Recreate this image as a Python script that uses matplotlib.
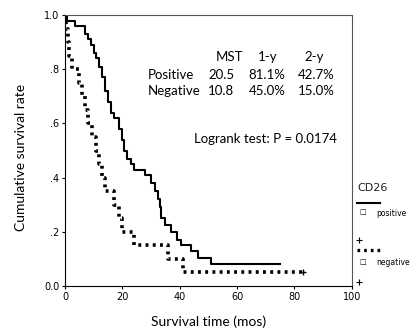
import matplotlib
matplotlib.use("Agg")
import matplotlib.pyplot as plt
from matplotlib.lines import Line2D

# Kaplan-Meier steps (time in months, survival after step)
pos_time = [0, 0.7, 3.5, 7, 8, 9, 10, 11, 12, 13, 14, 15, 16, 17, 19, 20, 20.5,
            21.5, 23, 24, 28, 30, 31.5, 32.5, 33, 33.5, 35, 37, 39, 40.5, 44,
            46.5, 51]
pos_surv = [1.0, 0.98, 0.96, 0.93, 0.91, 0.89, 0.86, 0.84, 0.81, 0.77, 0.72,
            0.68, 0.64, 0.62, 0.58, 0.54, 0.50, 0.47, 0.45, 0.43, 0.41, 0.38,
            0.35, 0.32, 0.29, 0.25, 0.225, 0.20, 0.17, 0.15, 0.13, 0.105, 0.08]
pos_end = 75

neg_time = [0, 0.3, 1, 1.5, 2.4, 5, 6, 7, 8, 9.5, 10.8, 12, 13, 14, 17, 19, 20,
            24, 36, 41]
neg_surv = [1.0, 0.95, 0.90, 0.85, 0.80, 0.75, 0.70, 0.65, 0.60, 0.55, 0.50,
            0.45, 0.40, 0.35, 0.30, 0.25, 0.20, 0.15, 0.10, 0.05]
neg_end = 83

table_cols = ["MST", "1-y", "2-y"]
table_rows = ["Positive", "Negative"]
table_vals = [["20.5", "81.1%", "42.7%"], ["10.8", "45.0%", "15.0%"]]

fig = plt.figure(figsize=(4.11, 3.28), dpi=100)
ax = fig.add_axes([0.158, 0.128, 0.698, 0.826])

ax.step(pos_time + [pos_end], pos_surv + [pos_surv[-1]], where="post",
        color="black", lw=1.5)
ax.step(neg_time + [neg_end], neg_surv + [neg_surv[-1]], where="post",
        color="black", lw=2.6, linestyle=(0, (0.8, 1.2)))
ax.plot([neg_end], [neg_surv[-1]], marker="+", color="black", ms=5, mew=1)

ax.set_xlim(0, 100)
ax.set_ylim(0, 1.0)
ax.set_xticks([0, 20, 40, 60, 80, 100])
ax.set_yticks([0, 0.2, 0.4, 0.6, 0.8, 1.0])
ax.set_yticklabels(["0.0", ".2", ".4", ".6", ".8", "1.0"])
ax.tick_params(labelsize=7, length=2, width=0.8, direction="out", pad=2)
for s in ax.spines.values():
    s.set_linewidth(0.8)
ax.spines["top"].set_color("#555555")
ax.spines["right"].set_color("#555555")

tf = dict(family="Lato", fontsize=9.5)
ax.text(57.5, 0.845, table_cols[0], ha="center", va="center", **tf)
ax.text(70.5, 0.845, table_cols[1], ha="center", va="center", **tf)
ax.text(87, 0.845, table_cols[2], ha="center", va="center", **tf)
for i, (name, vals) in enumerate(zip(table_rows, table_vals)):
    yy = 0.78 - i * 0.062
    ax.text(29, yy, name, ha="left", va="center", **tf)
    ax.text(54.5, yy, vals[0], ha="center", va="center", **tf)
    ax.text(70.5, yy, vals[1], ha="center", va="center", **tf)
    ax.text(87.5, yy, vals[2], ha="center", va="center", **tf)
ax.text(45, 0.543, "Logrank test: P = 0.0174", ha="left", va="center", **tf)

fig.text(0.052, 0.52, "Cumulative survival rate", rotation=90, ha="center",
         va="center", family="Lato", fontsize=10)
fig.text(0.507, 0.02, "Survival time (mos)", ha="center", va="center",
         family="Lato", fontsize=10)

# hand-drawn style legend on the right
fig.text(0.87, 0.427, "CD26", fontsize=8, va="center", color="#222222")
fig.add_artist(Line2D([0.868, 0.925], [0.381, 0.381], color="black", lw=1.5))
fig.text(0.883, 0.352, "\u25a1", fontsize=5, va="center", ha="center")
fig.text(0.915, 0.348, "positive", fontsize=5.5, va="center")
fig.add_artist(Line2D([0.874], [0.268], marker="+", color="black", ms=4, mew=0.8))
fig.add_artist(Line2D([0.868, 0.925], [0.238, 0.238], color="black", lw=2.4,
                      linestyle=(0, (0.8, 1.2))))
fig.text(0.883, 0.201, "\u25a1", fontsize=5, va="center", ha="center")
fig.text(0.915, 0.201, "negative", fontsize=5.5, va="center")
fig.add_artist(Line2D([0.874], [0.14], marker="+", color="black", ms=4, mew=0.8))

fig.savefig("out.png", dpi=100)
